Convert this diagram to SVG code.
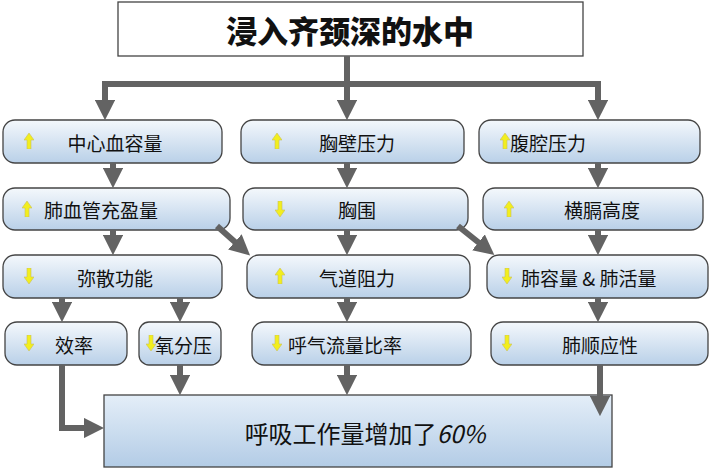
<svg xmlns="http://www.w3.org/2000/svg" width="715" height="468" viewBox="0 0 715 468">
<defs>
<linearGradient id="g" x1="0" y1="0" x2="0" y2="1"><stop offset="0" stop-color="#f4f8fc"/><stop offset="1" stop-color="#b9d0e8"/></linearGradient>
<linearGradient id="gb" x1="0" y1="0" x2="0" y2="1"><stop offset="0" stop-color="#e4eef8"/><stop offset="1" stop-color="#b3cce6"/></linearGradient>
<marker id="a" viewBox="0 0 10 10" refX="6" refY="5" markerWidth="3.4" markerHeight="3.4" orient="auto" markerUnits="strokeWidth"><path d="M0,0 L10,5 L0,10 z" fill="#636363"/></marker>
<symbol id="up" viewBox="0 0 10 16"><path d="M5,0 L10,7 L7,7 L7,16 L3,16 L3,7 L0,7 z" fill="#f2ee1e" stroke="#c8c060" stroke-width="0.6"/></symbol>
<symbol id="dn" viewBox="0 0 10 16"><path d="M5,16 L10,9 L7,9 L7,0 L3,0 L3,9 L0,9 z" fill="#f2ee1e" stroke="#c8c060" stroke-width="0.6"/></symbol>
</defs>
<style>
.b{fill:url(#g);stroke:#444;stroke-width:1.3}
.t{font-family:"Noto Sans CJK SC","Liberation Sans",sans-serif;font-size:19px;fill:#111;dominant-baseline:central}
.c{stroke:#636363;stroke-width:6;fill:none;marker-end:url(#a)}
.l{stroke:#636363;stroke-width:6;fill:none}
</style>
<g id="title"><rect x="118" y="2" width="465" height="54" fill="#fff" stroke="#444" stroke-width="1.3"/><text x="350" y="29" class="t" text-anchor="middle" style="font-size:31px;font-weight:900">浸入齐颈深的水中</text></g>
<g id="n1"><rect class="b" x="3" y="120" width="219" height="43" rx="12"/><use href="#up" x="24" y="133" width="10" height="16"/><text class="t" x="115" y="142" text-anchor="middle">中心血容量</text></g>
<g id="n2"><rect class="b" x="241" y="120" width="223" height="43" rx="12"/><use href="#up" x="272" y="133" width="10" height="16"/><text class="t" x="357" y="142" text-anchor="middle">胸壁压力</text></g>
<g id="n3"><rect class="b" x="479" y="120" width="221" height="43" rx="12"/><use href="#up" x="500" y="133" width="10" height="16"/><text class="t" x="510" y="142">腹腔压力</text></g>
<g id="n4"><rect class="b" x="3" y="188" width="227" height="42" rx="12"/><use href="#up" x="22" y="201" width="10" height="16"/><text class="t" x="44" y="209">肺血管充盈量</text></g>
<g id="n5"><rect class="b" x="243" y="188" width="225" height="42" rx="12"/><use href="#dn" x="275" y="201" width="10" height="16"/><text class="t" x="357" y="209" text-anchor="middle">胸围</text></g>
<g id="n6"><rect class="b" x="483" y="188" width="220" height="42" rx="12"/><use href="#up" x="504" y="201" width="10" height="16"/><text class="t" x="602" y="209" text-anchor="middle">横膈高度</text></g>
<g id="n7"><rect class="b" x="3" y="255" width="219" height="43" rx="12"/><use href="#dn" x="24" y="268" width="10" height="16"/><text class="t" x="115" y="277" text-anchor="middle">弥散功能</text></g>
<g id="n8"><rect class="b" x="247" y="255" width="223" height="43" rx="12"/><use href="#up" x="275" y="268" width="10" height="16"/><text class="t" x="357" y="277" text-anchor="middle">气道阻力</text></g>
<g id="n9"><rect class="b" x="487" y="255" width="221" height="43" rx="12"/><use href="#dn" x="502" y="268" width="10" height="16"/><text class="t" x="521" y="277">肺容量 &amp; 肺活量</text></g>
<g id="n10"><rect class="b" x="5" y="322" width="122" height="43" rx="12"/><use href="#dn" x="24" y="335" width="10" height="16"/><text class="t" x="55" y="344">效率</text></g>
<g id="n11"><rect class="b" x="139" y="322" width="82" height="43" rx="10"/><use href="#dn" x="146" y="335" width="10" height="16"/><text class="t" x="155" y="344">氧分压</text></g>
<g id="n12"><rect class="b" x="252" y="322" width="219" height="43" rx="12"/><use href="#dn" x="272" y="335" width="10" height="16"/><text class="t" x="288" y="344">呼气流量比率</text></g>
<g id="n13"><rect class="b" x="491" y="322" width="217" height="43" rx="12"/><use href="#dn" x="502" y="335" width="10" height="16"/><text class="t" x="600" y="344" text-anchor="middle">肺顺应性</text></g>
<g id="bottom"><rect x="104" y="395" width="508" height="72" fill="url(#gb)" stroke="#444" stroke-width="1.3"/><text class="t" x="365" y="432" text-anchor="middle" style="font-size:24px">呼吸工作量增加了<tspan style="font-style:italic">60%</tspan></text></g>
<g id="connectors">
<path class="l" d="M347,56 V84 M102,84 H601"/>
<path class="c" d="M105,84 V112"/>
<path class="c" d="M347,84 V112"/>
<path class="c" d="M598,84 V112"/>
<path class="c" d="M113,163 V180"/>
<path class="c" d="M347,163 V180"/>
<path class="c" d="M598,163 V180"/>
<path class="c" d="M113,230 V247"/>
<path class="c" d="M347,230 V247"/>
<path class="c" d="M598,230 V247"/>
<path class="c" d="M217,226 L244,250"/>
<path class="c" d="M458,226 L488,250"/>
<path class="c" d="M62,298 V314"/>
<path class="c" d="M180,298 V314"/>
<path class="c" d="M347,298 V314"/>
<path class="c" d="M598,298 V314"/>
<path class="c" d="M62,365 V428 H96"/>
<path class="c" d="M180,365 V387"/>
<path class="c" d="M347,365 V387"/>
<path class="c" d="M600,365 V408"/>
</g>
</svg>
